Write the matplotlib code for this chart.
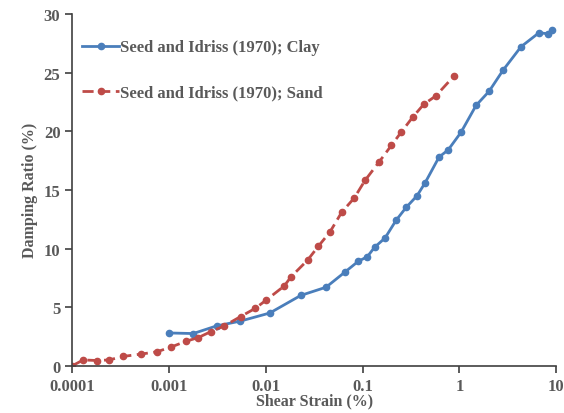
import numpy as np
import matplotlib
matplotlib.use('Agg')
import matplotlib.pyplot as plt

# Seed and Idriss (1970) damping curves
clay_strain = [0.001, 0.00178, 0.0031, 0.0054, 0.011, 0.023, 0.042, 0.066, 0.09, 0.112,
               0.133, 0.171, 0.222, 0.282, 0.366, 0.443, 0.618, 0.766, 1.04, 1.49,
               2.03, 2.83, 4.34, 6.67, 8.26, 9.1]
clay_damp = [2.8, 2.75, 3.4, 3.8, 4.5, 6.0, 6.7, 8.0, 8.9, 9.3,
             10.1, 10.9, 12.4, 13.5, 14.5, 15.6, 17.8, 18.4, 19.9, 22.2,
             23.4, 25.2, 27.2, 28.4, 28.3, 28.6]

sand_strain = [0.0001, 0.00013, 0.000181, 0.000241, 0.000336, 0.000516, 0.000755, 0.00105,
               0.00151, 0.002, 0.00269, 0.00372, 0.0055, 0.0078, 0.0101, 0.0155,
               0.0183, 0.027, 0.035, 0.046, 0.061, 0.082, 0.106, 0.149,
               0.199, 0.25, 0.33, 0.43, 0.57, 0.88]
sand_damp = [0.0, 0.5, 0.45, 0.5, 0.8, 1.0, 1.2, 1.6,
             2.1, 2.4, 2.9, 3.4, 4.2, 4.9, 5.6, 6.8,
             7.6, 9.0, 10.2, 11.4, 13.1, 14.3, 15.8, 17.4,
             18.8, 19.9, 21.2, 22.3, 23.0, 24.7]

xticks = [0.0001, 0.001, 0.01, 0.1, 1, 10]
xticklabels = ['0.0001', '0.001', '0.01', '0.1', '1', '10']
yticks = [0, 5, 10, 15, 20, 25, 30]

grey = '#595959'
plt.rcParams['font.family'] = ['Liberation Serif', 'DejaVu Serif']
plt.rcParams['font.weight'] = 'bold'

fig = plt.figure(figsize=(5.64, 4.14), dpi=100)
ax = fig.add_axes([0.128, 0.114, 0.858, 0.85])

ax.plot(clay_strain, clay_damp, '-o', color='#4A7EBB', lw=2, ms=4.5,
        label='Seed and Idriss (1970); Clay')
ax.plot(sand_strain, sand_damp, '--o', color='#BE4B48', lw=2, ms=4.5,
        dashes=(4, 2), label='Seed and Idriss (1970); Sand')

ax.set_xscale('log')
ax.set_xlim(0.0001, 10)
ax.set_ylim(0, 30)
ax.set_xticks(xticks)
ax.set_xticklabels(xticklabels)
ax.xaxis.set_minor_locator(matplotlib.ticker.NullLocator())
ax.set_yticks(yticks)

for s in ['top', 'right']:
    ax.spines[s].set_visible(False)
for s in ['left', 'bottom']:
    ax.spines[s].set_color('#404040')
    ax.spines[s].set_linewidth(1.2)
ax.tick_params(colors='#404040', labelcolor=grey, labelsize=12, length=5, width=1.2)

ax.set_xlabel('Shear Strain (%)', color=grey, fontsize=11.5, fontweight='bold', labelpad=-1)
ax.set_ylabel('Damping Ratio (%)', color=grey, fontsize=11.5, fontweight='bold', labelpad=4)

leg = ax.legend(loc='upper left', bbox_to_anchor=(-0.01, 0.97), frameon=False,
                fontsize=12, handlelength=2.2, handletextpad=0.05, labelspacing=1.75)
for t in leg.get_texts():
    t.set_color(grey)

fig.savefig('out.png', dpi=100)
